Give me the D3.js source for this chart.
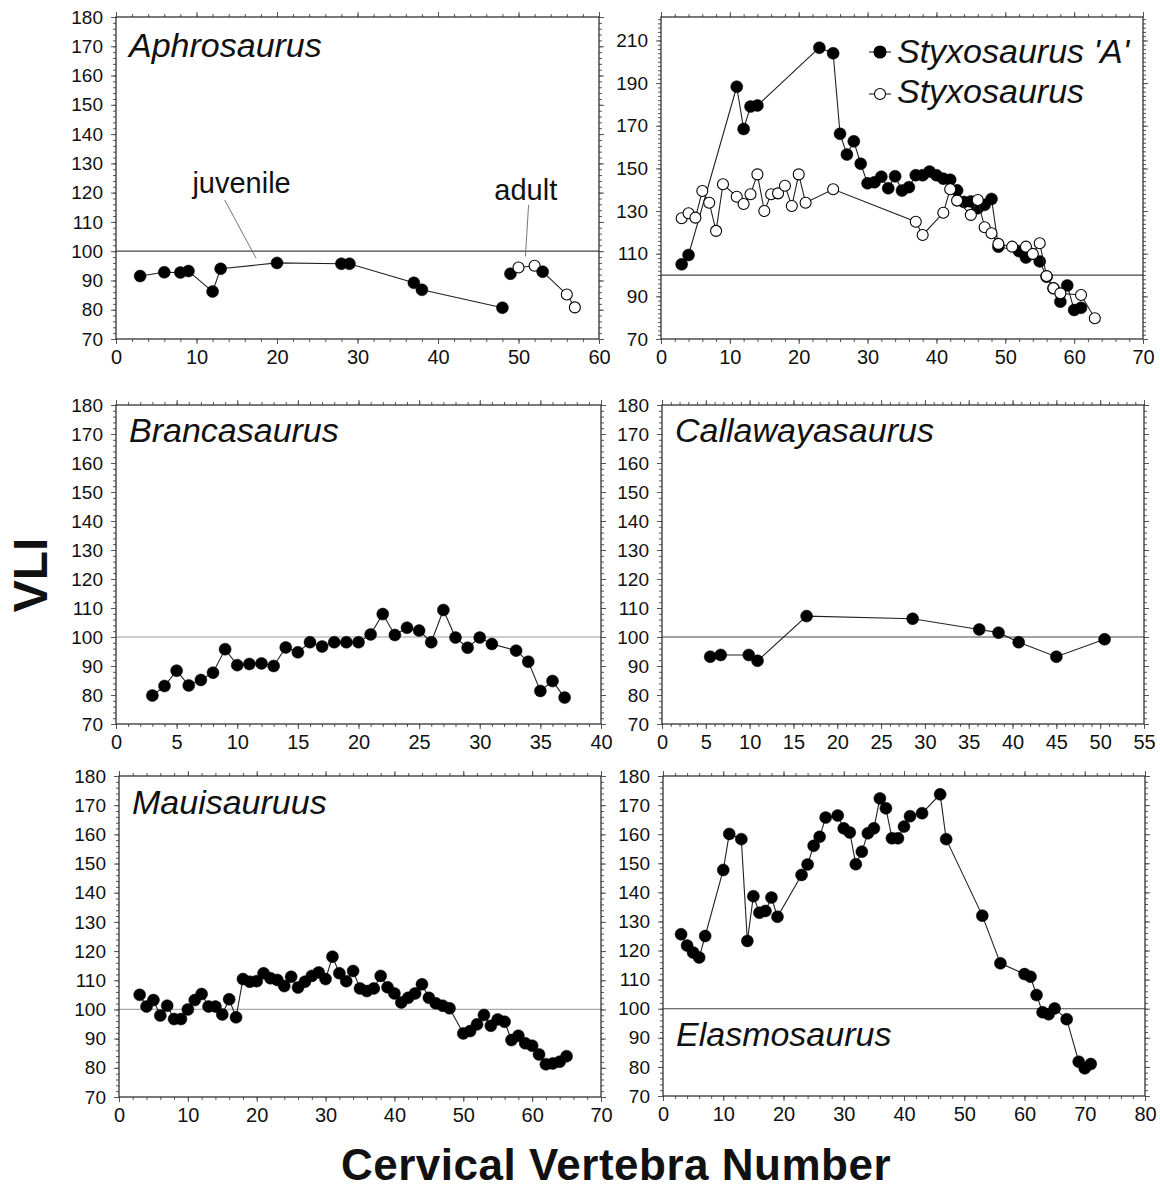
<!DOCTYPE html>
<html>
<head>
<meta charset="utf-8">
<script src="https://cdn.jsdelivr.net/npm/d3@7/dist/d3.min.js"></script>
<style>
  body { margin: 0; background: #fff; }
  svg { display: block; }
  text { font-family: "Liberation Sans", Arial, sans-serif; fill: #111; }
</style>
</head>
<body>
<svg id="chart" width="1160" height="1192"></svg>
<script>
'use strict';

// ---- data (vertebra number, VLI) ----
const aphroJuvX = [3, 6, 8, 9, 12, 13, 20, 28, 29, 37, 38, 48];
const aphroJuvY = [91.5, 92.8, 92.7, 93.2, 86.2, 94, 96, 95.7, 95.7, 89.2, 86.8, 80.7];
const aphroAdultX = [49, 50, 52, 53, 56, 57];
const aphroAdultY = [92.3, 94.4, 95, 93, 85.2, 80.8];
const aphroAdultFilled = [true, false, false, true, false, false];

const styxAX = [3, 4, 11, 12, 13, 14, 23, 25, 26, 27, 28, 29, 30, 31, 32, 33, 34, 35, 36, 37, 38, 39, 40,
  41, 42, 43, 44, 45, 46, 47, 48, 49, 52, 53, 55, 56, 57, 58, 59, 60, 61];
const styxAY = [105, 109.4, 188.3, 168.5, 179, 179.5, 206.6, 204, 166.2, 156.5, 162.7, 152.2, 143, 143.5,
  146.1, 140.7, 146.3, 139.6, 141.2, 146.8, 146.8, 148.5, 146.8, 145.2, 144.7, 139.7, 134.3, 134.5, 131.3,
  132.9, 135.7, 113.3, 111.2, 108.2, 106.4, 99.2, 93.8, 87.5, 95.1, 83.6, 84.6];
const styxX = [3, 4, 5, 6, 7, 8, 9, 11, 12, 13, 14, 15, 16, 17, 18, 19, 20, 21, 25, 37, 38, 41, 42, 43, 45,
  46, 47, 48, 49, 51, 53, 54, 55, 56, 57, 58, 61, 63];
const styxY = [126.6, 129, 126.9, 139.4, 133.9, 120.7, 142.6, 136.7, 133.3, 137.9, 147.2, 130, 137.9, 138.3,
  141.9, 132.4, 147.2, 133.9, 140.2, 125, 118.8, 129.2, 140.2, 134.9, 128.2, 135.2, 122.4, 119.6, 114.6,
  113.3, 113.3, 109.9, 114.9, 99.5, 93.8, 91.4, 90.6, 79.7];

const brancaX = [3, 4, 5, 6, 7, 8, 9, 10, 11, 12, 13, 14, 15, 16, 17, 18, 19, 20, 21, 22, 23, 24, 25, 26, 27,
  28, 29, 30, 31, 33, 34, 35, 36, 37];
const brancaY = [79.8, 83.1, 88.4, 83.3, 85.2, 87.7, 95.8, 90.3, 90.7, 90.9, 90, 96.4, 94.7, 98.2, 96.7, 98.2,
  98.2, 98.2, 100.9, 107.9, 100.7, 103.2, 102.2, 98.2, 109.3, 99.8, 96.3, 99.8, 97.6, 95.3, 91.5, 81.4, 84.8, 79.1];

const callaX = [5.5, 6.7, 9.9, 10.9, 16.5, 28.6, 36.2, 38.4, 40.7, 45, 50.5];
const callaY = [93.2, 93.8, 93.8, 91.8, 107.2, 106.3, 102.6, 101.5, 98.2, 93.2, 99.2];

const mauiX = [3, 4, 5, 6, 7, 8, 9, 10, 11, 12, 13, 14, 15, 16, 17, 18, 19, 20, 21, 22, 23, 24, 25, 26, 27,
  28, 29, 30, 31, 32, 33, 34, 35, 36, 37, 38, 39, 40, 41, 42, 43, 44, 45, 46, 47, 48,
  50, 51, 52, 53, 54, 55, 56, 57, 58, 59, 60, 61, 62, 63, 64, 65];
const mauiY = [105, 101, 103.2, 97.9, 101.3, 96.7, 96.7, 100, 103.2, 105.3, 101, 101, 98.3, 103.5, 97.3, 110.4,
  109.5, 109.7, 112.4, 110.7, 110.1, 108, 111.2, 107.5, 109.5, 111.5, 112.7, 110.4, 118.1, 112.4, 109.7, 113.2,
  107.2, 106.3, 107.2, 111.5, 107.6, 105.5, 102.4, 104, 105.5, 108.6, 104, 102.1, 101.3, 100.4,
  91.8, 92.6, 94.9, 98.1, 94.4, 96.6, 95.8, 89.5, 91, 88.4, 87.6, 84.6, 81.2, 81.5, 82.1, 84];

const elasmoX = [3, 4, 5, 6, 7, 10, 11, 13, 14, 15, 16, 17, 18, 19, 23, 24, 25, 26, 27, 29, 30, 31, 32, 33, 34,
  35, 36, 37, 38, 39, 40, 41, 43, 46, 47, 53, 56, 60, 61, 62, 63, 64, 65, 67, 69, 70, 71];
const elasmoY = [125.6, 121.7, 119.3, 117.6, 125, 147.7, 160.1, 158.3, 123.3, 138.7, 133, 133.6, 138.2, 131.6,
  146, 149.6, 156, 159.1, 165.7, 166.4, 162, 160.6, 149.7, 154, 160.3, 162, 172.3, 168.9, 158.6, 158.6, 162.6,
  166.2, 167.2, 173.7, 158.3, 132, 115.6, 111.9, 111, 104.7, 98.8, 98.1, 100.1, 96.4, 81.8, 79.5, 81];

// axis tick labels
const yTicks10 = d3.range(70, 181, 10);
const yTicksStyx = d3.range(70, 211, 20);

const svg = d3.select('#chart');

function toPoints(xs, ys, filled) {
  return xs.map((x, i) => ({ x: x, y: ys[i], filled: Array.isArray(filled) ? filled[i] : filled }));
}

/**
 * Draws one framed panel with its axes, the VLI = 100 line and its series
 */
function drawPanel(p) {
  const x = d3.scaleLinear().domain(p.xDomain).range([p.left, p.right]);
  const y = d3.scaleLinear().domain(p.yDomain).range([p.bottom, p.top]);
  const g = svg.append('g');

  const xMinor = d3.range(p.xDomain[0], p.xDomain[1] + 0.001, p.xMinor);
  const yMinor = d3.range(p.yDomain[0], p.yDomain[1] + 0.001, 2);
  const xMajor = d3.range(p.xDomain[0], p.xDomain[1] + 0.001, p.xStep);

  function axisGroup(axis, tx, ty, labelled, fontSize) {
    const a = g.append('g').attr('transform', `translate(${tx},${ty})`).call(axis);
    a.select('.domain').remove();
    a.selectAll('line').attr('stroke', '#555').attr('stroke-width', 1);
    a.selectAll('text').style('font-size', fontSize + 'px').attr('fill', '#111');
    if (!labelled) a.selectAll('text').remove();
    return a;
  }

  // minor ticks on all sides
  axisGroup(d3.axisBottom(x).tickValues(xMinor).tickSize(3).tickFormat(''), 0, p.bottom, false);
  axisGroup(d3.axisTop(x).tickValues(xMinor).tickSize(3).tickFormat(''), 0, p.top, false);
  axisGroup(d3.axisLeft(y).tickValues(yMinor).tickSize(3).tickFormat(''), p.left, 0, false);
  axisGroup(d3.axisRight(y).tickValues(yMinor).tickSize(3).tickFormat(''), p.right, 0, false);

  // major ticks + labels
  axisGroup(d3.axisBottom(x).tickValues(xMajor).tickSize(5).tickPadding(6).tickFormat(d3.format('d')),
    0, p.bottom, true, 20);
  axisGroup(d3.axisTop(x).tickValues(xMajor).tickSize(5), 0, p.top, false);
  axisGroup(d3.axisLeft(y).tickValues(p.yTicks).tickSize(5).tickPadding(8).tickFormat(d3.format('d')),
    p.left, 0, true, 19);
  axisGroup(d3.axisRight(y).tickValues(p.yTicks).tickSize(5), p.right, 0, false);

  // VLI = 100 reference
  g.append('line')
    .attr('x1', p.left).attr('x2', p.right)
    .attr('y1', y(100)).attr('y2', y(100))
    .attr('stroke', p.refColor).attr('stroke-width', 1.2);

  // frame
  g.append('rect')
    .attr('x', p.left).attr('y', p.top)
    .attr('width', p.right - p.left).attr('height', p.bottom - p.top)
    .attr('fill', 'none').attr('stroke', '#333').attr('stroke-width', 1.3);

  const line = d3.line().x(d => x(d.x)).y(d => y(d.y));

  p.series.forEach(s => {
    g.append('path').datum(s)
      .attr('d', line)
      .attr('fill', 'none').attr('stroke', '#222').attr('stroke-width', 1.1);
    g.selectAll(null).data(s).enter().append('circle')
      .attr('cx', d => x(d.x)).attr('cy', d => y(d.y))
      .attr('r', d => d.filled ? 6 : 5.5)
      .attr('fill', d => d.filled ? '#000' : '#fff')
      .attr('stroke', '#000').attr('stroke-width', d => d.filled ? 0.5 : 1.1);
  });

  if (p.title) {
    g.append('text')
      .attr('x', p.left + 13).attr('y', p.titleY)
      .style('font-size', '34px').style('font-style', 'italic')
      .text(p.title);
  }

  return { g, x, y };
}

const p1 = drawPanel({
  left: 116, right: 599, top: 17, bottom: 339,
  xDomain: [0, 60], xStep: 10, xMinor: 2,
  yDomain: [70, 180], yTicks: yTicks10, refColor: '#444',
  title: 'Aphrosaurus', titleY: 57,
  series: [toPoints(aphroJuvX, aphroJuvY, true), toPoints(aphroAdultX, aphroAdultY, aphroAdultFilled)]
});

// juvenile / adult labels with leader lines
[
  { text: 'juvenile', tx: 15.6, ty: 120, from: [13.5, 117.5], to: [17.4, 97.6] },
  { text: 'adult', tx: 50.9, ty: 117.5, from: [51.25, 115.8], to: [50.86, 98.2] }
].forEach(a => {
  p1.g.append('line')
    .attr('x1', p1.x(a.from[0])).attr('y1', p1.y(a.from[1]))
    .attr('x2', p1.x(a.to[0])).attr('y2', p1.y(a.to[1]))
    .attr('stroke', '#666').attr('stroke-width', 0.9);
  p1.g.append('text')
    .attr('x', p1.x(a.tx)).attr('y', p1.y(a.ty))
    .attr('text-anchor', 'middle')
    .style('font-size', '29px')
    .text(a.text);
});

const p2 = drawPanel({
  left: 661, right: 1143, top: 17, bottom: 339,
  xDomain: [0, 70], xStep: 10, xMinor: 2,
  yDomain: [70, 221], yTicks: yTicksStyx, refColor: '#444',
  series: [toPoints(styxAX, styxAY, true), toPoints(styxX, styxY, false)]
});

// legend
[
  { label: "Styxosaurus 'A'", filled: true, cy: 52, ty: 63 },
  { label: 'Styxosaurus', filled: false, cy: 94, ty: 103 }
].forEach(l => {
  p2.g.append('line')
    .attr('x1', 869).attr('x2', 891).attr('y1', l.cy).attr('y2', l.cy)
    .attr('stroke', '#222').attr('stroke-width', 1.1);
  p2.g.append('circle')
    .attr('cx', 880).attr('cy', l.cy).attr('r', l.filled ? 6 : 5.5)
    .attr('fill', l.filled ? '#000' : '#fff').attr('stroke', '#000').attr('stroke-width', 1.1);
  p2.g.append('text')
    .attr('x', 897).attr('y', l.ty)
    .style('font-size', '34px').style('font-style', 'italic')
    .text(l.label);
});

drawPanel({
  left: 116, right: 601, top: 405, bottom: 724,
  xDomain: [0, 40], xStep: 5, xMinor: 1,
  yDomain: [70, 180], yTicks: yTicks10, refColor: '#999',
  title: 'Brancasaurus', titleY: 442,
  series: [toPoints(brancaX, brancaY, true)]
});

drawPanel({
  left: 662, right: 1144, top: 405, bottom: 724,
  xDomain: [0, 55], xStep: 5, xMinor: 1,
  yDomain: [70, 180], yTicks: yTicks10, refColor: '#444',
  title: 'Callawayasaurus', titleY: 442,
  series: [toPoints(callaX, callaY, true)]
});

drawPanel({
  left: 119, right: 601, top: 776, bottom: 1097,
  xDomain: [0, 70], xStep: 10, xMinor: 2,
  yDomain: [70, 180], yTicks: yTicks10, refColor: '#aaa',
  title: 'Mauisauruus', titleY: 814,
  series: [toPoints(mauiX, mauiY, true)]
});

drawPanel({
  left: 663, right: 1145, top: 776, bottom: 1096,
  xDomain: [0, 80], xStep: 10, xMinor: 2,
  yDomain: [70, 180], yTicks: yTicks10, refColor: '#444',
  title: 'Elasmosaurus', titleY: 1046,
  series: [toPoints(elasmoX, elasmoY, true)]
});

// shared axis titles
svg.append('text')
  .attr('transform', 'translate(47,575) rotate(-90)')
  .attr('text-anchor', 'middle')
  .style('font-size', '48px').style('font-weight', 'bold')
  .text('VLI');

svg.append('text')
  .attr('x', 616).attr('y', 1180)
  .attr('text-anchor', 'middle')
  .style('font-size', '44px').style('font-weight', 'bold')
  .style('letter-spacing', '0.5px')
  .text('Cervical Vertebra Number');
</script>
</body>
</html>
